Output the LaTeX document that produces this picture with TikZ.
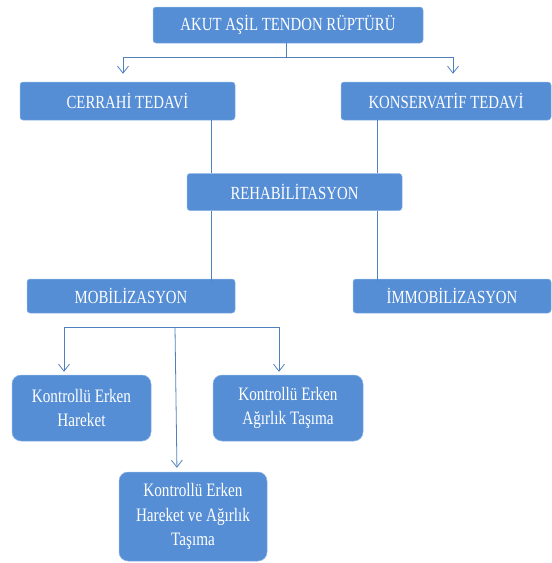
\documentclass[tikz,border=0pt]{standalone}
\usepackage{fontspec}
\setmainfont{Liberation Serif}[FakeStretch=0.8]
\usetikzlibrary{arrows.meta,calc}
\definecolor{boxblue}{RGB}{85,142,213}
\definecolor{boxedge}{RGB}{140,180,228}
\definecolor{linecol}{RGB}{79,129,189}
\begin{document}
\begin{tikzpicture}[x=1pt,y=-1pt,
  capbox/.style={fill=boxblue,draw=boxedge,line width=0.5pt,rounded corners=3pt,
    text=white,inner sep=0pt,align=center,font=\fontsize{18.5}{22}\selectfont},
  lowbox/.style={fill=boxblue,draw=boxedge,line width=0.5pt,rounded corners=9pt,
    text=white,inner sep=0pt,align=center,font=\fontsize{19}{24.5}\selectfont},
  conn/.style={draw=linecol,line width=0.8pt},
  arr/.style={conn,-{Straight Barb[length=7pt,width=11pt,line width=0.8pt]}}]
\useasboundingbox (0,0) rectangle (552,563);
% boxes
\node[capbox,minimum width=270pt,minimum height=36pt] (top) at (288,25) {AKUT AŞİL TENDON RÜPTÜRÜ};
\node[capbox,minimum width=215pt,minimum height=38pt] (cer) at (127.5,101) {CERRAHİ TEDAVİ};
\node[capbox,minimum width=210pt,minimum height=38pt] (kon) at (446,101) {KONSERVATİF TEDAVİ};
\node[capbox,minimum width=215pt,minimum height=37pt] (reh) at (294.5,192) {REHABİLİTASYON};
\node[capbox,minimum width=208pt,minimum height=34pt] (mob) at (131,296) {MOBİLİZASYON};
\node[capbox,minimum width=198pt,minimum height=34pt] (imm) at (452,296) {İMMOBİLİZASYON};
\node[lowbox,minimum width=139pt,minimum height=66pt] (keh) at (81.5,408) {Kontrollü Erken\\Hareket};
\node[lowbox,minimum width=150pt,minimum height=66pt] (keat) at (288,408) {Kontrollü Erken\\Ağırlık Taşıma};
\node[lowbox,minimum width=148pt,minimum height=89pt] (bot) at (193,516.5) {Kontrollü Erken\\Hareket ve Ağırlık\\Taşıma};
% helper coordinates
\coordinate (j1) at (286,57);
\coordinate (cL) at (123,57);
\coordinate (cR) at (453,57);
\coordinate (xL) at (211,0);
\coordinate (xR) at (377,0);
\coordinate (hub) at (175,327);
\coordinate (aL) at (64,327);
\coordinate (aR) at (279,327);
% connectors, top level
\draw[conn] (top.south -| j1) -- (j1);
\draw[conn] (cL) -- (cR);
\draw[arr,shorten >=8pt] (cL) -- (cL |- cer.north);
\draw[arr,shorten >=8pt] (cR) -- (cR |- kon.north);
% rehabilitation links
\draw[conn] (cer.south -| xL) -- (reh.north -| xL);
\draw[conn] (kon.south -| xR) -- (reh.north -| xR);
\draw[conn] (reh.south -| xL) -- ([yshift=-2pt]mob.north -| xL);
\draw[conn] (reh.south -| xR) -- ([yshift=-2pt]imm.north -| xR);
% lower branch
\draw[conn] (aL) -- (aR);
\draw[arr,shorten >=3pt] (aL) -- (aL |- keh.north);
\draw[arr,shorten >=3pt] (aR) -- (aR |- keat.north);
\draw[arr,shorten >=4pt] (hub) -- ($(hub |- bot.north)+(2,0)$);
\end{tikzpicture}
\end{document}
